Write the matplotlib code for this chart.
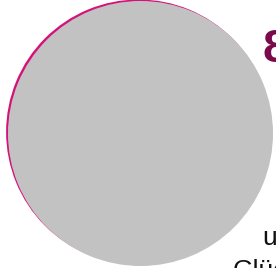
import matplotlib
matplotlib.use("Agg")
import matplotlib.pyplot as plt

# Data
circle_values = [100]           # single full slice (grey disc)
back_values = [100]             # magenta disc behind
big_label = "8"
text_lines = ["und", "Glück"]

W, H = 276, 268
fig = plt.figure(figsize=(W / 100, H / 100), dpi=100)
ax = fig.add_axes([0, 0, 1, 1])

# magenta disc slightly offset up-left, grey disc on top
ax.pie(back_values, colors=["#d4137a"], radius=132.5, center=(138.6, 132.0),
       startangle=90, wedgeprops=dict(linewidth=0))
ax.pie(circle_values, colors=["#c2c2c2"], radius=132.5, center=(140.5, 133.5),
       startangle=90, wedgeprops=dict(linewidth=0))

ax.set_xlim(0, W)
ax.set_ylim(H, 0)
ax.set_aspect("equal")
ax.axis("off")

ax.text(263, 62, big_label, fontsize=34, fontweight="bold", color="#7a0a4c",
        ha="left", va="baseline", family=["Liberation Sans", "DejaVu Sans"])
ax.text(262, 245, text_lines[0], fontsize=19, color="#111111",
        ha="left", va="baseline", family=["Liberation Sans", "DejaVu Sans"])
ax.text(233, 278, text_lines[1], fontsize=19, color="#111111",
        ha="left", va="baseline", family=["Liberation Sans", "DejaVu Sans"])

fig.savefig("out.png", dpi=100)
